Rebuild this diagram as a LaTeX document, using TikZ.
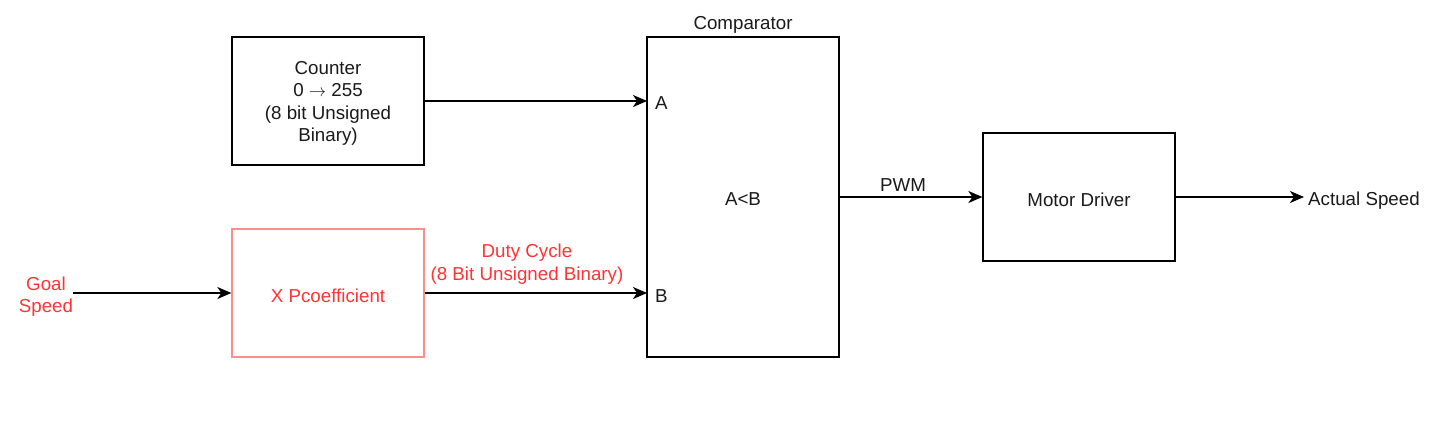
\documentclass[tikz,border=0pt]{standalone}
\usepackage{fontspec}
\setmainfont{Liberation Sans}
\usetikzlibrary{arrows.meta}
\definecolor{redtext}{HTML}{FF3333}
\definecolor{pinkline}{HTML}{FF8C8C}
\definecolor{txt}{HTML}{1A1A1A}
\tikzset{
  blockbox/.style={draw=black, line width=1.3pt, minimum width=192pt, minimum height=128pt, align=center, inner sep=0pt, text=txt},
  conn/.style={line width=1.4pt, -{Stealth[length=14pt,width=12pt,inset=4pt]}},
  lbl/.style={align=center, inner sep=0pt, text=txt},
  tshift/.style={yshift=-2.5pt},
}
\begin{document}
\begin{tikzpicture}[x=1pt,y=-1pt,font=\fontsize{18.75}{22.5}\selectfont]
\useasboundingbox (0,0) rectangle (1431,430);
\node[blockbox] (counter) at (328,101) {};
\node[lbl, tshift] (countertext) at (counter.center) {Counter\\0 $\rightarrow$ 255\\(8 bit Unsigned\\Binary)};
\node[blockbox, draw=pinkline] (pcoef) at (328,293) {};
\node[lbl, tshift, text=redtext] (pcoeftext) at (pcoef.center) {X Pcoefficient};
\node[blockbox, minimum height=320pt] (comp) at (743,197) {};
\node[lbl, tshift] (comptext) at (comp.center) {A<B};
\node[blockbox] (motor) at (1079,197) {};
\node[lbl, tshift] (motortext) at (motor.center) {Motor Driver};
\node[lbl, tshift] (comptitle) at (743,22) {Comparator};
\node[lbl, tshift, anchor=west] (ina) at (655,101) {A};
\node[lbl, tshift, anchor=west] (inb) at (655,294) {B};
\node[lbl, tshift, text=redtext] (goal) at (46,294) {Goal\\Speed};
\node[lbl, tshift, text=redtext] (duty) at (527,261.5) {Duty Cycle\\(8 Bit Unsigned Binary)};
\node[lbl, tshift] (pwm) at (903,183) {PWM};
\node[lbl, tshift, anchor=west] (actual) at (1308,198) {Actual Speed};
\coordinate (ga) at (73,293);
\coordinate (pa) at (647,101);
\coordinate (pb) at (647,293);
\coordinate (as) at (1304,197);
\draw[conn] (ga) -- (pcoef.west |- ga);
\draw[conn] (counter.east |- pa) -- (pa);
\draw[conn] (pcoef.east |- pb) -- (pb);
\draw[conn] (comp.east |- motor.west) -- (motor.west);
\draw[conn] (motor.east) -- (as);
\end{tikzpicture}
\end{document}
